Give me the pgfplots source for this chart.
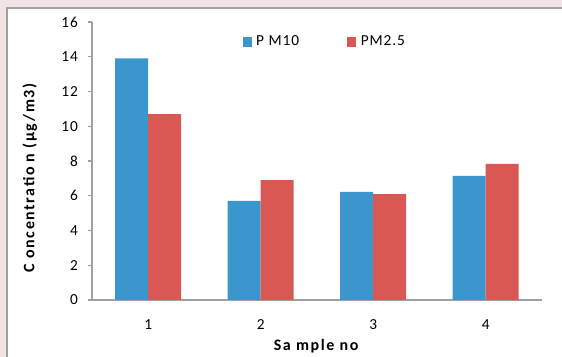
\documentclass[border=0pt]{standalone}
\usepackage{pgfplots}
\pgfplotsset{compat=1.18}
\usepackage{fontspec}
\setmainfont{Carlito}
\definecolor{pmblue}{RGB}{58,150,205}
\definecolor{pmred}{RGB}{217,88,84}
\definecolor{bgpink}{RGB}{242,228,228}
\definecolor{axgray}{RGB}{160,160,160}
\newcommand{\lsp}{\fontsize{11.5}{13}\selectfont\addfontfeature{LetterSpace=6}}
\newcommand{\lbl}{\fontsize{12}{14}\selectfont\bfseries\addfontfeature{LetterSpace=10}}
\begin{document}
\begin{tikzpicture}
\fill[bgpink] (0pt,0pt) rectangle (421.5pt,267.75pt);
\fill[white] (5.25pt,0pt) rectangle (421.5pt,261.75pt);
\draw[axgray,line width=0.9pt] (5.25pt,0pt) -- (5.25pt,261.75pt) -- (421.5pt,261.75pt);
\begin{axis}[
  at={(69pt,42.75pt)}, anchor=south west,
  scale only axis, width=337.5pt, height=208.5pt,
  ybar=0pt, bar width=24.75pt,
  xmin=0.5, xmax=4.5, ymin=0, ymax=16,
  ytick={0,2,...,16},
  xtick={1,2,3,4}, xticklabels={1,2,3,4},
  extra x ticks={0.5,1.5,2.5,3.5,4.5},
  extra x tick labels={},
  extra x tick style={major tick length=4pt, tick style={axgray, line width=0.8pt}},
  axis lines*=left,
  axis line style={axgray, line width=0.8pt, -},
  tick align=outside,
  major tick length=3pt,
  tick style={axgray, line width=0.8pt},
  xtick style={draw=none},
  /pgf/number format/assume math mode=true,
  ticklabel style={font=\lsp, text=black},
  xticklabel style={yshift=-8pt},
  yticklabel style={xshift=-4pt},
  ylabel={C oncentratio n (µg/m3)},
  ylabel style={at={(axis description cs:-0.138,0.439)}, anchor=center, font=\lbl},
  xlabel={Sa mple no},
  xlabel style={at={(axis description cs:0.498,-0.165)}, anchor=center, font=\lbl},
  legend columns=2,
  legend style={draw=none, fill=none, at={(axis description cs:0.325,0.928)}, anchor=west,
    font=\lsp, /tikz/every even column/.append style={column sep=34pt},
    /tikz/every odd column/.append style={column sep=1.5pt}},
  legend image code/.code={\fill[#1] (0pt,-3.4pt) rectangle (6.8pt,3.4pt);},
]
\addplot[fill=pmblue, draw=none] coordinates {(1,13.9) (2,5.7) (3,6.22) (4,7.14)};
\addplot[fill=pmred, draw=none] coordinates {(1,10.7) (2,6.9) (3,6.1) (4,7.83)};
\legend{P M10, PM2.5}
\end{axis}
\pgfresetboundingbox
\useasboundingbox (0pt,0pt) rectangle (421.5pt,267.75pt);
\end{tikzpicture}
\end{document}
